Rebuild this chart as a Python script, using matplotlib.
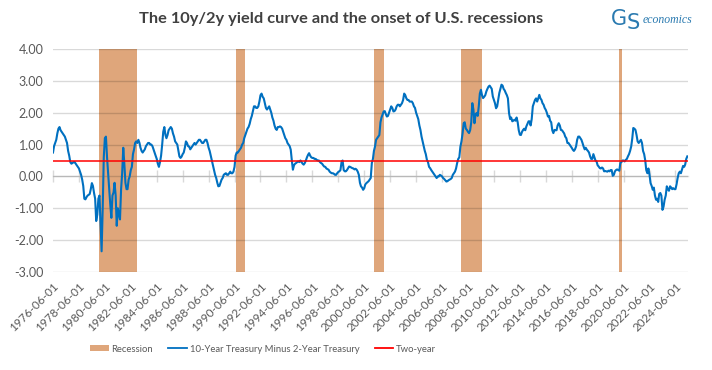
import numpy as np
import pandas as pd
import matplotlib
matplotlib.use('Agg')
import matplotlib.pyplot as plt
import matplotlib.dates as mdates
from matplotlib.patches import Patch
from matplotlib.lines import Line2D

plt.rcParams['font.family'] = ['Lato', 'DejaVu Sans']

TITLE = 'The 10y/2y yield curve and the onset of U.S. recessions'

# 10-year minus 2-year treasury spread, monthly, starting 1976-06
start_month = '1976-06-01'
spread = [
    0.75, 0.95, 1.05, 1.15, 1.35, 1.50, 1.55,                           # 1976 (Jun-Dec)
    1.45, 1.40, 1.35, 1.30, 1.25, 1.15, 1.05, 0.80, 0.65, 0.45, 0.40, 0.42,  # 1977
    0.45, 0.45, 0.40, 0.35, 0.30, 0.25, 0.15, 0.05, -0.10, -0.30, -0.70, -0.72,  # 1978
    -0.65, -0.60, -0.58, -0.55, -0.40, -0.21, -0.30, -0.52, -0.70, -1.40, -1.20, -0.70,  # 1979
    -0.60, -1.50, -2.35, -1.00, 0.60, 1.20, 1.25, 0.60, 0.10, -0.40, -0.90, -1.30,  # 1980
    -0.60, -0.50, -0.20, -0.60, -1.55, -1.00, -1.20, -1.35, -0.40, 0.10, 0.90, 0.40,  # 1981
    -0.20, -0.40, -0.40, -0.10, 0.00, 0.20, 0.30, 0.70, 0.85, 1.05, 1.10, 1.05,  # 1982
    1.15, 1.05, 0.90, 0.80, 0.75, 0.80, 0.85, 0.95, 1.00, 1.05, 1.05, 1.00,  # 1983
    1.00, 0.95, 0.85, 0.75, 0.65, 0.55, 0.40, 0.30, 0.45, 0.65, 1.00, 1.40,  # 1984
    1.55, 1.30, 1.20, 1.30, 1.45, 1.50, 1.55, 1.50, 1.35, 1.25, 1.10, 1.05,  # 1985
    1.00, 0.80, 0.63, 0.58, 0.62, 0.70, 0.75, 0.90, 1.10, 1.05, 0.95, 0.94,  # 1986
    0.85, 0.90, 0.95, 1.00, 1.05, 1.00, 1.05, 1.10, 1.15, 1.15, 1.10, 1.05,  # 1987
    1.05, 1.10, 1.15, 1.15, 1.05, 0.90, 0.80, 0.65, 0.50, 0.35, 0.20, 0.05,  # 1988
    -0.05, -0.20, -0.31, -0.30, -0.20, -0.10, -0.05, 0.05, 0.08, 0.10, 0.05, 0.05,  # 1989
    0.10, 0.15, 0.10, 0.10, 0.15, 0.30, 0.65, 0.75, 0.75, 0.80, 0.85, 0.90,  # 1990
    1.00, 1.05, 1.20, 1.30, 1.40, 1.50, 1.55, 1.65, 1.80, 1.90, 2.05, 2.20,  # 1991
    2.20, 2.15, 2.15, 2.20, 2.35, 2.55, 2.60, 2.50, 2.45, 2.30, 2.15, 2.10,  # 1992
    2.15, 2.20, 2.10, 2.00, 1.85, 1.75, 1.60, 1.50, 1.46, 1.55, 1.55, 1.57,  # 1993
    1.55, 1.50, 1.41, 1.30, 1.20, 1.15, 1.05, 1.00, 0.95, 0.84, 0.50, 0.21,  # 1994
    0.35, 0.40, 0.42, 0.45, 0.47, 0.45, 0.50, 0.45, 0.40, 0.37, 0.42, 0.50,  # 1995
    0.60, 0.68, 0.73, 0.65, 0.60, 0.58, 0.58, 0.55, 0.55, 0.52, 0.50, 0.50,  # 1996
    0.45, 0.42, 0.40, 0.35, 0.31, 0.30, 0.25, 0.23, 0.21, 0.15, 0.12, 0.10,  # 1997
    0.10, 0.08, 0.05, 0.05, 0.10, 0.14, 0.16, 0.20, 0.45, 0.50, 0.20, 0.16,  # 1998
    0.16, 0.20, 0.25, 0.31, 0.30, 0.28, 0.26, 0.25, 0.22, 0.24, 0.21, 0.15,  # 1999
    0.05, -0.20, -0.31, -0.35, -0.42, -0.37, -0.25, -0.21, -0.18, -0.15, -0.10, -0.05,  # 2000
    0.42, 0.55, 0.80, 0.94, 1.15, 1.20, 1.25, 1.30, 1.70, 1.85, 1.95, 2.04,  # 2001
    2.05, 1.95, 1.88, 1.90, 2.00, 2.10, 2.20, 2.15, 2.04, 2.05, 2.10, 2.20,  # 2002
    2.25, 2.25, 2.20, 2.25, 2.30, 2.40, 2.60, 2.55, 2.45, 2.40, 2.40, 2.35,  # 2003
    2.35, 2.35, 2.30, 2.20, 2.15, 2.00, 1.90, 1.80, 1.60, 1.46, 1.25, 1.10,  # 2004
    0.94, 0.80, 0.70, 0.52, 0.45, 0.30, 0.26, 0.20, 0.15, 0.10, 0.05, 0.00,  # 2005
    -0.05, 0.00, 0.00, 0.05, 0.03, 0.00, -0.05, -0.08, -0.12, -0.16, -0.15, -0.12,  # 2006
    -0.10, -0.08, -0.05, 0.05, 0.10, 0.15, 0.25, 0.42, 0.55, 0.60, 0.94, 1.10,  # 2007
    1.35, 1.67, 1.70, 1.50, 1.46, 1.40, 1.36, 1.45, 1.70, 2.30, 2.10, 1.67,  # 2008
    1.95, 1.99, 1.90, 2.20, 2.60, 2.72, 2.55, 2.46, 2.50, 2.55, 2.67, 2.75,  # 2009
    2.82, 2.85, 2.80, 2.75, 2.51, 2.40, 2.30, 2.14, 2.20, 2.40, 2.62, 2.75,  # 2010
    2.88, 2.85, 2.75, 2.70, 2.62, 2.55, 2.45, 1.99, 1.80, 1.85, 1.73, 1.75,  # 2011
    1.78, 1.75, 1.85, 1.70, 1.45, 1.31, 1.30, 1.40, 1.46, 1.50, 1.45, 1.57,  # 2012
    1.65, 1.73, 1.73, 1.60, 1.80, 2.20, 2.30, 2.40, 2.45, 2.35, 2.45, 2.56,  # 2013
    2.45, 2.40, 2.30, 2.25, 2.15, 2.09, 2.00, 1.88, 1.90, 1.75, 1.70, 1.45,  # 2014
    1.36, 1.46, 1.45, 1.45, 1.60, 1.67, 1.60, 1.46, 1.45, 1.40, 1.35, 1.25,  # 2015
    1.20, 1.05, 1.05, 1.00, 0.95, 0.90, 0.84, 0.80, 0.85, 0.94, 1.15, 1.25,  # 2016
    1.25, 1.20, 1.15, 1.05, 0.94, 0.85, 0.90, 0.84, 0.80, 0.75, 0.63, 0.55,  # 2017
    0.55, 0.70, 0.60, 0.50, 0.47, 0.35, 0.31, 0.26, 0.25, 0.28, 0.25, 0.16,  # 2018
    0.17, 0.16, 0.15, 0.18, 0.16, 0.20, 0.20, 0.02, 0.05, 0.16, 0.20, 0.22,  # 2019
    0.20, 0.18, 0.42, 0.45, 0.50, 0.50, 0.47, 0.52, 0.55, 0.63, 0.70, 0.80,  # 2020
    0.94, 1.20, 1.52, 1.50, 1.46, 1.30, 1.10, 1.05, 1.10, 1.15, 1.05, 0.80,  # 2021
    0.70, 0.50, 0.20, 0.10, 0.25, 0.05, -0.21, -0.30, -0.42, -0.35, -0.60, -0.73,  # 2022
    -0.70, -0.80, -0.55, -0.52, -0.60, -1.05, -0.95, -0.73, -0.60, -0.31, -0.40, -0.45,  # 2023
    -0.31, -0.35, -0.40, -0.37, -0.40, -0.40, -0.25, -0.05, 0.10, 0.15, 0.10, 0.21,  # 2024
    0.33, 0.30, 0.37, 0.55, 0.63,                                       # 2025 (Jan-May)
]

two_year_level = 0.48

recession_start = ['1980-01-01', '1990-07-01', '2001-03-01', '2007-12-01', '2020-02-01']
recession_end = ['1982-11-30', '1991-03-31', '2001-11-30', '2009-06-30', '2020-04-30']

tick_dates = pd.date_range('1976-06-01', '2024-06-01', freq='24MS')

blue = '#0070C0'
brown = '#DFA67B'
grey_text = '#595959'

dates = pd.date_range(start_month, periods=len(spread), freq='MS')

fig = plt.figure(figsize=(7.12, 3.70), dpi=100)
ax = fig.add_axes([53 / 712, 1 - 272 / 370, (688 - 53) / 712, (272 - 49) / 370])

for s, e in zip(recession_start, recession_end):
    ax.axvspan(pd.Timestamp(s), pd.Timestamp(e), color=brown, lw=0, zorder=0.5)

ax.set_ylim(-3, 4)
ax.set_yticks(np.arange(-3, 5, 1))
ax.yaxis.set_major_formatter(matplotlib.ticker.FormatStrFormatter('%.2f'))
ax.grid(axis='y', color='black', alpha=0.15, lw=1, zorder=1)
ax.set_axisbelow(False)

ax.plot(dates, spread, color=blue, lw=1.5, zorder=3)
ax.axhline(two_year_level, color='#FF0000', lw=1.1, zorder=4)

ax.set_xlim(pd.Timestamp('1976-06-01'), pd.Timestamp('2025-05-20'))
ax.set_xticks(tick_dates)
ax.xaxis.set_major_formatter(mdates.DateFormatter('%Y-%m-%d'))
for lbl in ax.get_xticklabels():
    lbl.set_rotation(45)
    lbl.set_ha('right')
    lbl.set_rotation_mode('anchor')
ax.tick_params(axis='x', length=0, pad=6, labelsize=8.5, labelcolor=grey_text)
ax.tick_params(axis='y', length=0, pad=7, labelsize=9, labelcolor=grey_text)
for sp in ax.spines.values():
    sp.set_visible(False)

# horizontal axis line crossing at zero, with tick marks
zero_axis = ax.secondary_xaxis(0, transform=ax.transData)
zero_axis.set_xticks(tick_dates)
zero_axis.tick_params(axis='x', direction='inout', length=9, width=1,
                      color='#D9D9D9', labelbottom=False)
zero_axis.spines['bottom'].set_color('#D9D9D9')
zero_axis.spines['bottom'].set_linewidth(1)

fig.text(341 / 712, 1 - 19 / 370, TITLE, ha='center', va='center',
         fontsize=11.8, fontweight='bold', color='#404040')

# logo
logo = '#2A7AB0'
fig.text(611 / 712, 1 - 19 / 370, 'G', fontsize=15, color=logo, ha='left', va='center',
         family='DejaVu Sans')
fig.text(627 / 712, 1 - 23 / 370, 'S', fontsize=15, color=logo, ha='left', va='center',
         family='DejaVu Sans')
fig.text(643 / 712, 1 - 20 / 370, 'economics', fontsize=8.5, color=logo, ha='left',
         va='center', family='Liberation Serif', style='italic')

handles = [
    Patch(facecolor=brown, edgecolor='none'),
    Line2D([], [], color=blue, lw=1.3),
    Line2D([], [], color='#FF0000', lw=1.3),
]
labels = ['Recession', '10-Year Treasury Minus 2-Year Treasury', 'Two-year']
leg = fig.legend(handles, labels, loc='center', bbox_to_anchor=(263 / 712, 1 - 349 / 370),
                 ncol=3, frameon=False, fontsize=6.8, handlelength=2.0, handleheight=0.6,
                 columnspacing=1.6, handletextpad=0.3)
for t in leg.get_texts():
    t.set_color(grey_text)

fig.savefig('out.png', dpi=100)
